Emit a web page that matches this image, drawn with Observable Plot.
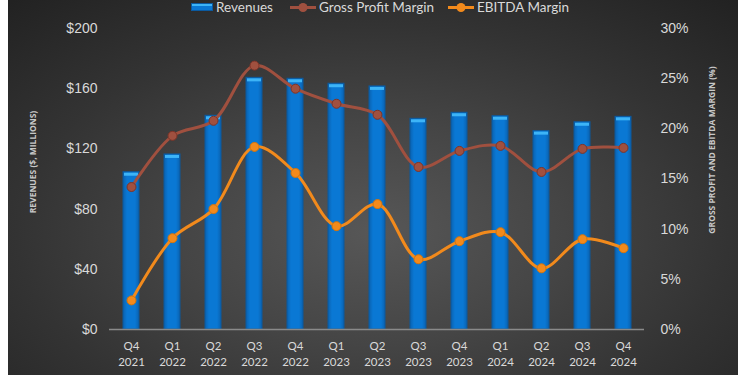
<!DOCTYPE html>
<html>
<head>
<meta charset="utf-8">
<script src="https://cdn.jsdelivr.net/npm/d3@7"></script>
<script src="https://cdn.jsdelivr.net/npm/@observablehq/plot@0.6"></script>
<style>
  html, body { margin: 0; padding: 0; background: #ffffff; }
  #wrap { position: relative; width: 750px; height: 375px; overflow: hidden; background: #fff; }
  #panel { position: absolute; left: 8px; top: 0; width: 730px; height: 375px;
    background: radial-gradient(ellipse 75% 85% at 50% 62%, #575757 0%, #454545 35%, #333 65%, #212121 100%); }
  #chart { position: absolute; left: 0; top: 0; }
  .legend { position: absolute; top: 0px; left: 0; width: 750px; height: 16px; font-family: Lato, sans-serif; font-size: 13.5px; color: #d9d9d9; }
  .legend span { position: absolute; white-space: nowrap; line-height: 15px; }
  .ytitle { position: absolute; font-family: "Open Sans", sans-serif; font-weight: bold; font-size: 8.5px; color: #c8c8c8; white-space: nowrap; transform: translate(-50%, -50%) rotate(-90deg); }
</style>
</head>
<body>
<div id="wrap">
  <div id="panel"></div>
  <div id="chart"></div>
  <div class="legend" id="legend"></div>
  <div class="ytitle" id="ltitle" style="left:32px; top:162px;"></div>
  <div class="ytitle" id="rtitle" style="left:711px; top:150px;"></div>
</div>
<script>
const quarters = ["Q4 2021","Q1 2022","Q2 2022","Q3 2022","Q4 2022","Q1 2023","Q2 2023","Q3 2023","Q4 2023","Q1 2024","Q2 2024","Q3 2024","Q4 2024"];
const revenues = [104.5,116.3,142,167.2,166.6,163.3,161.5,140,144,141.7,131.8,137.7,141.3];
const grossMargin = [14.2,19.3,20.8,26.3,24.0,22.5,21.4,16.2,17.8,18.3,15.7,18.0,18.1];
const ebitdaMargin = [2.9,9.1,12.0,18.2,15.6,10.3,12.5,7.0,8.8,9.7,6.1,9.0,8.1];
const revenueTicks = [0,40,80,120,160,200];
const marginTicks = [0,5,10,15,20,25,30];
const seriesNames = ["Revenues","Gross Profit Margin","EBITDA Margin"];
const leftTitle = "REVENUES ($, MILLIONS)";
const rightTitle = "GROSS PROFIT AND EBITDA MARGIN (%)";

const revMax = 200, marMax = 30;
const toRev = p => p * revMax / marMax;

const data = quarters.map((q, i) => ({q, rev: revenues[i], gm: grossMargin[i], eb: ebitdaMargin[i]}));

const c = {bar: "url(#barGrad)", barStroke: "#0b5aa0", cap: "#3db4f7", gm: "#a0503f", gmDot: "#7e3428", eb: "#f28a1c", ebDot: "#d4740c"};

const chart = Plot.plot({
  width: 750, height: 375,
  marginTop: 28, marginBottom: 46, marginLeft: 109, marginRight: 106,
  style: {background: "transparent", color: "#d9d9d9", overflow: "visible"},
  x: {domain: quarters, paddingInner: 0.62, paddingOuter: 0.31, label: null},
  y: {domain: [0, revMax], label: null},
  marks: [
    Plot.axisY({ticks: revenueTicks, tickFormat: d => "$" + d, tickSize: 0, tickPadding: 12, fontSize: 14, fontFamily: "Liberation Sans, Arial, sans-serif", fill: "#d9d9d9", label: null}),
    Plot.axisY({anchor: "right", ticks: marginTicks.map(toRev), tickFormat: d => Math.round(d * marMax / revMax) + "%", tickSize: 0, tickPadding: 16, fontSize: 14, fontFamily: "Liberation Sans, Arial, sans-serif", fill: "#d9d9d9", label: null}),
    Plot.axisX({tickSize: 0, tickPadding: 9, tickFormat: d => d.replace(" ", "\n"), fontSize: 11.5, lineHeight: 1.38, fontFamily: "Lato, sans-serif", fill: "#d9d9d9", label: null}),
    Plot.barY(data, {x: "q", y: "rev", fill: c.bar, stroke: c.barStroke, strokeWidth: 1}),
    Plot.tickY(data, {x: "q", y: "rev", stroke: c.cap, strokeWidth: 3, dy: 2, insetLeft: 1, insetRight: 1}),
    Plot.ruleY([0], {stroke: "#8a8a8a", strokeWidth: 1.5}),
    Plot.line(data, {x: "q", y: d => toRev(d.gm), stroke: c.gm, strokeWidth: 3, curve: "catmull-rom"}),
    Plot.dot(data, {x: "q", y: d => toRev(d.gm), r: 4.5, fill: c.gm, stroke: c.gmDot, strokeWidth: 1}),
    Plot.line(data, {x: "q", y: d => toRev(d.eb), stroke: c.eb, strokeWidth: 3, curve: "catmull-rom"}),
    Plot.dot(data, {x: "q", y: d => toRev(d.eb), r: 4.5, fill: c.eb, stroke: c.ebDot, strokeWidth: 1})
  ]
});

// gradient for bars
const ns = "http://www.w3.org/2000/svg";
const defs = document.createElementNS(ns, "defs");
defs.innerHTML = '<linearGradient id="barGrad" x1="0" x2="1" y1="0" y2="0">' +
  '<stop offset="0" stop-color="#0a62b0"/><stop offset="0.25" stop-color="#0a78d4"/>' +
  '<stop offset="0.75" stop-color="#0a78d4"/><stop offset="1" stop-color="#0a62b0"/></linearGradient>';
chart.insertBefore(defs, chart.firstChild);
document.getElementById("chart").appendChild(chart);

// legend
const lg = document.getElementById("legend");
const items = [
  {x: 191, w: 22, text: seriesNames[0], type: "bar"},
  {x: 290, w: 26, text: seriesNames[1], type: "line", color: c.gm},
  {x: 448, w: 26, text: seriesNames[2], type: "line", color: c.eb}
];
items.forEach(it => {
  const sw = document.createElement("span");
  sw.style.left = it.x + "px";
  sw.style.top = "0px";
  if (it.type === "bar") {
    sw.innerHTML = `<svg width="${it.w}" height="15"><rect x="0.5" y="3.5" width="${it.w-1}" height="7" fill="#0a78d4" stroke="#0b5aa0"/><rect x="1" y="4" width="${it.w-2}" height="2" fill="#3db4f7"/></svg>`;
  } else {
    sw.innerHTML = `<svg width="${it.w}" height="15"><line x1="0" x2="${it.w}" y1="7.5" y2="7.5" stroke="${it.color}" stroke-width="3"/><circle cx="${it.w/2}" cy="7.5" r="4.5" fill="${it.color}"/></svg>`;
  }
  lg.appendChild(sw);
  const t = document.createElement("span");
  t.textContent = it.text;
  t.style.left = (it.x + it.w + 3) + "px";
  t.style.top = "0px";
  lg.appendChild(t);
});
document.getElementById("ltitle").textContent = leftTitle;
document.getElementById("rtitle").textContent = rightTitle;
</script>
</body>
</html>
